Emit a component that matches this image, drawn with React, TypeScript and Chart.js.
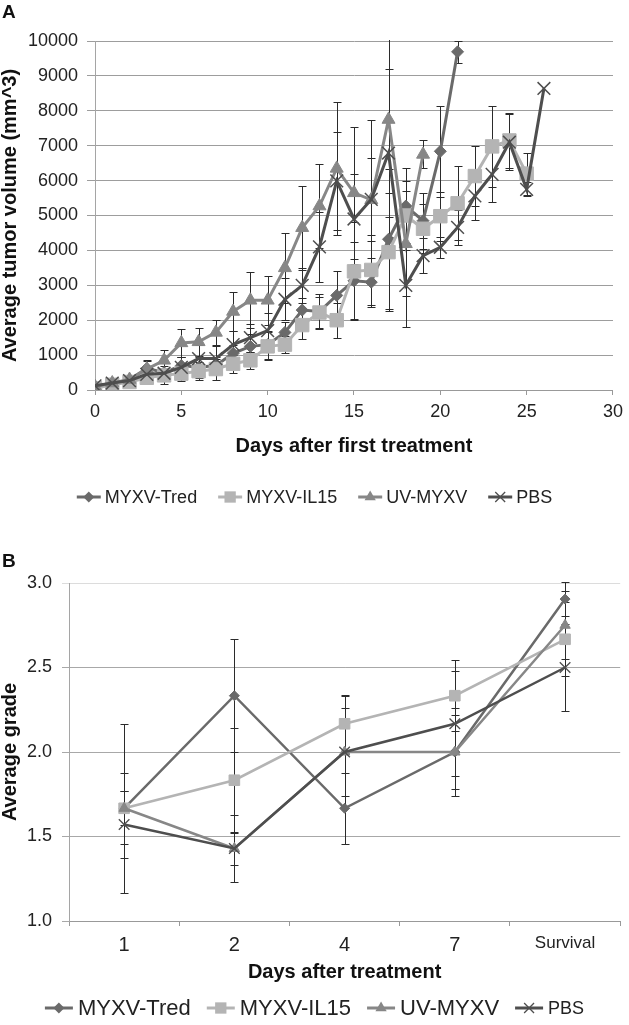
import React, { useEffect, useRef } from 'react';
import { Chart, registerables } from 'chart.js';

Chart.register(...registerables);

const FONT = '"Liberation Sans", Arial, Helvetica, sans-serif';

// ---------- shared series info ----------
const seriesNames = ['MYXV-Tred', 'MYXV-IL15', 'UV-MYXV', 'PBS'];
const seriesColors = ['#6a6a6a', '#b4b4b4', '#878787', '#4e4e4e'];
const seriesStyles = ['rectRot', 'rect', 'triangle', 'crossRot'];

// ---------- panel A data ----------
const tumorDays = [0, 1, 2, 3, 4, 5, 6, 7, 8, 9, 10, 11, 12, 13, 14, 15, 16, 17, 18, 19, 20, 21, 22, 23, 24, 25, 26];
const tumorTred = [100, 180, 300, 620, 500, 700, 650, 700, 1050, 1250, 1300, 1650, 2290, 2250, 2710, 3130, 3090, 4320, 5270, 4850, 6840, 9690];
const tumorTredErr = [30, 50, 80, 200, 200, 250, 300, 250, 250, 350, 400, 300, 350, 500, 700, 1100, 700, 2000, 1100, 800, 1300, 320];
const tumorIL15 = [50, 150, 230, 350, 420, 470, 540, 600, 750, 850, 1250, 1300, 1860, 2220, 2000, 3400, 3440, 3950, 5000, 4620, 4980, 5350, 6130, 6980, 7150, 6200];
const tumorIL15Err = [20, 40, 60, 100, 150, 200, 250, 300, 250, 250, 400, 250, 400, 450, 500, 1400, 1000, 1700, 1000, 700, 700, 1060, 870, 1150, 800, 600];
const tumorUV = [100, 200, 300, 600, 850, 1350, 1380, 1650, 2250, 2570, 2570, 3500, 4650, 5270, 6350, 5650, 5450, 7750, 4190, 6750];
const tumorUVErr = [30, 50, 80, 250, 300, 400, 400, 350, 550, 800, 700, 1000, 1200, 1200, 1900, 1900, 2300, 2800, 1500, 400];
const tumorPBS = [120, 200, 270, 450, 480, 650, 900, 900, 1300, 1500, 1700, 2600, 3000, 4100, 5990, 4900, 5460, 6790, 3000, 3850, 4090, 4660, 5560, 6180, 7100, 5750, 8640];
const tumorPBSErr = [30, 50, 80, 100, 300, 300, 400, 350, 400, 400, 500, 600, 500, 1000, 1400, 1300, 1200, 2400, 1200, 500, 300, 500, 700, 800, 800, 200, 0];
const tumorXTicks = [0, 5, 10, 15, 20, 25, 30];

// ---------- panel B data ----------
const gradeCategories = ['1', '2', '4', '7', 'Survival'];
const gradeTred = [1.667, 2.333, 1.667, 2.0, 2.905];
const gradeTredErr = [0.5, 0.333, 0.21, 0.26, 0.1];
const gradeIL15 = [1.667, 1.833, 2.167, 2.333, 2.667];
const gradeIL15Err = [0.21, 0.31, 0.17, 0.21, 0.22];
const gradeUV = [1.667, 1.429, 2.0, 2.0, 2.75];
const gradeUVErr = [0.1, 0.2, 0.26, 0.22, 0.2];
const gradePBS = [1.571, 1.429, 2.0, 2.167, 2.5];
const gradePBSErr = [0.2, 0.1, 0.33, 0.31, 0.26];

// ---------- helpers ----------
function drawMarker(ctx: CanvasRenderingContext2D, style: string, x: number, y: number, r: number, color: string, lw: number) {
  ctx.save();
  ctx.fillStyle = color;
  ctx.strokeStyle = color;
  ctx.lineWidth = lw;
  ctx.beginPath();
  if (style === 'rectRot') {
    ctx.moveTo(x - r, y);
    ctx.lineTo(x, y - r);
    ctx.lineTo(x + r, y);
    ctx.lineTo(x, y + r);
    ctx.closePath();
    ctx.fill();
  } else if (style === 'rect') {
    const s = r * Math.SQRT1_2;
    ctx.rect(x - s, y - s, 2 * s, 2 * s);
    ctx.fill();
  } else if (style === 'triangle') {
    let a = 0;
    ctx.moveTo(x + Math.sin(a) * r, y - Math.cos(a) * r);
    a += (2 * Math.PI) / 3;
    ctx.lineTo(x + Math.sin(a) * r, y - Math.cos(a) * r);
    a += (2 * Math.PI) / 3;
    ctx.lineTo(x + Math.sin(a) * r, y - Math.cos(a) * r);
    ctx.closePath();
    ctx.fill();
  } else {
    const o = r * Math.SQRT1_2;
    ctx.moveTo(x - o, y - o);
    ctx.lineTo(x + o, y + o);
    ctx.moveTo(x - o, y + o);
    ctx.lineTo(x + o, y - o);
    ctx.stroke();
  }
  ctx.restore();
}

const errorBarPlugin = {
  id: 'errorBars',
  beforeDatasetsDraw(chart: any) {
    const { ctx, chartArea } = chart;
    const yScale = chart.scales.y;
    ctx.save();
    ctx.beginPath();
    ctx.rect(chartArea.left, chartArea.top - 1, chartArea.right - chartArea.left, chartArea.bottom - chartArea.top + 2);
    ctx.clip();
    ctx.strokeStyle = '#2b2b2b';
    ctx.lineWidth = 1;
    chart.data.datasets.forEach((ds: any, di: number) => {
      const errs = ds.errors;
      if (!errs) return;
      const meta = chart.getDatasetMeta(di);
      meta.data.forEach((pt: any, i: number) => {
        const e = errs[i];
        if (!e) return;
        const raw = ds.data[i];
        const v = typeof raw === 'number' ? raw : raw.y;
        const x = Math.round(pt.x) + 0.5;
        const y1 = Math.round(yScale.getPixelForValue(v + e)) + 0.5;
        const y2 = Math.round(yScale.getPixelForValue(v - e)) + 0.5;
        ctx.beginPath();
        ctx.moveTo(x, y1);
        ctx.lineTo(x, y2);
        ctx.moveTo(x - 4, y1);
        ctx.lineTo(x + 4, y1);
        ctx.moveTo(x - 4, y2);
        ctx.lineTo(x + 4, y2);
        ctx.stroke();
      });
    });
    ctx.restore();
  },
};

const legendPlugin = {
  id: 'customLegend',
  afterDraw(chart: any, _args: any, opts: any) {
    const { ctx } = chart;
    const items = chart.data.datasets.map((ds: any, i: number) => ({
      text: ds.label,
      color: ds.borderColor,
      style: ds.pointStyle,
      size: opts.fontSizes[i],
      radius: opts.radii[i],
    }));
    ctx.save();
    let total = 0;
    const widths = items.map((it: any) => {
      ctx.font = `${it.size}px ${FONT}`;
      const w = opts.lineLen + opts.textGap + ctx.measureText(it.text).width;
      total += w;
      return w;
    });
    total += opts.itemGap * (items.length - 1);
    let x = chart.width / 2 - total / 2;
    const y = opts.y;
    items.forEach((it: any, i: number) => {
      ctx.strokeStyle = it.color;
      ctx.lineWidth = opts.lineWidth;
      ctx.beginPath();
      ctx.moveTo(x, y);
      ctx.lineTo(x + opts.lineLen, y);
      ctx.stroke();
      drawMarker(ctx, it.style, x + opts.lineLen / 2, y, it.radius, it.color, it.style === 'crossRot' ? 1.3 : 1);
      ctx.fillStyle = '#222';
      ctx.font = `${it.size}px ${FONT}`;
      ctx.textAlign = 'left';
      ctx.textBaseline = 'middle';
      ctx.fillText(it.text, x + opts.lineLen + opts.textGap, y + 1);
      x += widths[i] + opts.itemGap;
    });
    ctx.restore();
  },
};

function tumorDataset(idx: number, values: number[], errs: number[], radius: number) {
  return {
    label: seriesNames[idx],
    data: values.map((v, i) => ({ x: tumorDays[i], y: v })),
    errors: errs,
    borderColor: seriesColors[idx],
    backgroundColor: seriesColors[idx],
    pointBackgroundColor: seriesColors[idx],
    pointBorderColor: seriesColors[idx],
    pointStyle: seriesStyles[idx],
    pointRadius: radius,
    pointBorderWidth: seriesStyles[idx] === 'crossRot' ? 1.5 : 1,
    borderWidth: 3,
    tension: 0,
    order: 4 - idx,
  };
}

function gradeDataset(idx: number, values: number[], errs: number[], radius: number) {
  return {
    label: seriesNames[idx],
    data: values,
    errors: errs,
    borderColor: seriesColors[idx],
    backgroundColor: seriesColors[idx],
    pointBackgroundColor: seriesColors[idx],
    pointBorderColor: seriesColors[idx],
    pointStyle: seriesStyles[idx],
    pointRadius: radius,
    pointBorderWidth: seriesStyles[idx] === 'crossRot' ? 1.3 : 1,
    borderWidth: 2.5,
    tension: 0,
    order: 4 - idx,
  };
}

const radiiA = [6, 9.5, 7.5, 9];
const radiiB = [5, 7.5, 6, 7.5];

function configA(): any {
  return {
    type: 'line',
    data: {
      datasets: [
        tumorDataset(0, tumorTred, tumorTredErr, radiiA[0]),
        tumorDataset(1, tumorIL15, tumorIL15Err, radiiA[1]),
        tumorDataset(2, tumorUV, tumorUVErr, radiiA[2]),
        tumorDataset(3, tumorPBS, tumorPBSErr, radiiA[3]),
      ],
    },
    options: {
      responsive: false,
      animation: false,
      events: [],
      layout: { padding: { left: 0, right: 11, top: 41, bottom: 74 } },
      plugins: {
        legend: { display: false },
        tooltip: { enabled: false },
        customLegend: {
          y: 497, lineLen: 24, textGap: 4, itemGap: 21, lineWidth: 3,
          fontSizes: [18, 18, 18, 18], radii: [5.5, 8, 6.5, 7],
        },
      },
      scales: {
        x: {
          type: 'linear',
          min: 0,
          max: 30,
          afterBuildTicks: (s: any) => { s.ticks = tumorXTicks.map((v) => ({ value: v })); },
          afterFit: (s: any) => { s.height = 66; },
          ticks: {
            font: { size: 18, family: FONT }, color: '#222', padding: 6, maxRotation: 0,
            callback: (v: any) => String(v),
          },
          grid: { drawOnChartArea: false, drawTicks: true, tickLength: 5, color: '#999' },
          border: { color: '#999', width: 1 },
          title: {
            display: true, text: 'Days after first treatment', color: '#111',
            font: { size: 20, weight: 'bold', family: FONT, lineHeight: 1 }, padding: 0,
          },
        },
        y: {
          min: 0,
          max: 10000,
          afterFit: (s: any) => { s.width = 95; },
          ticks: {
            stepSize: 1000, font: { size: 18, family: FONT }, color: '#222', padding: 9,
            callback: (v: any) => String(v),
          },
          grid: { color: '#9d9d9d', tickLength: 8, lineWidth: 1 },
          border: { color: '#a5a5a5', width: 1 },
          title: {
            display: true, text: 'Average tumor volume (mm^3)', color: '#111',
            font: { size: 20, weight: 'bold', family: FONT, lineHeight: 1 }, padding: 0,
          },
        },
      },
    },
    plugins: [errorBarPlugin, legendPlugin],
  };
}

function configB(): any {
  return {
    type: 'line',
    data: {
      labels: gradeCategories,
      datasets: [
        gradeDataset(0, gradeTred, gradeTredErr, radiiB[0]),
        gradeDataset(1, gradeIL15, gradeIL15Err, radiiB[1]),
        gradeDataset(2, gradeUV, gradeUVErr, radiiB[2]),
        gradeDataset(3, gradePBS, gradePBSErr, radiiB[3]),
      ],
    },
    options: {
      responsive: false,
      animation: false,
      events: [],
      layout: { padding: { left: 0, right: 2, top: 53, bottom: 43 } },
      plugins: {
        legend: { display: false },
        tooltip: { enabled: false },
        customLegend: {
          y: 478, lineLen: 28, textGap: 5, itemGap: 16, lineWidth: 3,
          fontSizes: [22, 22, 22, 18], radii: [5.5, 8, 6.5, 7],
        },
      },
      scales: {
        x: {
          type: 'category',
          offset: true,
          afterFit: (s: any) => { s.height = 61; },
          ticks: {
            font: (c: any) => ({ size: c.tick && c.tick.label === 'Survival' ? 17 : 20, family: FONT }),
            color: '#222', padding: 7, maxRotation: 0,
          },
          grid: { offset: true, drawOnChartArea: false, drawTicks: true, tickLength: 5, color: '#999' },
          border: { color: '#999', width: 1 },
          title: {
            display: true, text: 'Days after treatment', color: '#111',
            font: { size: 20, weight: 'bold', family: FONT, lineHeight: 1 }, padding: 0,
          },
        },
        y: {
          min: 1,
          max: 3,
          afterFit: (s: any) => { s.width = 69; },
          ticks: {
            stepSize: 0.5, font: { size: 18, family: FONT }, color: '#222', padding: 10,
            callback: (v: any) => Number(v).toFixed(1),
          },
          grid: {
            color: (c: any) => (c.tick && c.tick.value === 3 ? '#dcdcdc' : '#a8a8a8'),
            tickLength: 7, lineWidth: 1,
          },
          border: { color: '#a5a5a5', width: 1 },
          title: {
            display: true, text: 'Average grade', color: '#111',
            font: { size: 20, weight: 'bold', family: FONT, lineHeight: 1 }, padding: 0,
          },
        },
      },
    },
    plugins: [errorBarPlugin, legendPlugin],
  };
}

export default function App() {
  const refA = useRef<HTMLCanvasElement>(null);
  const refB = useRef<HTMLCanvasElement>(null);

  useEffect(() => {
    const a = new Chart(refA.current as HTMLCanvasElement, configA());
    const b = new Chart(refB.current as HTMLCanvasElement, configB());
    return () => {
      a.destroy();
      b.destroy();
    };
  }, []);

  const letter: React.CSSProperties = {
    position: 'absolute', left: 2, fontFamily: FONT, fontWeight: 'bold', fontSize: 19, lineHeight: '20px', color: '#111',
  };

  return (
    <div style={{ position: 'absolute', left: 0, top: 0, width: 629, height: 1025, background: '#fff', overflow: 'hidden' }}>
      <canvas ref={refA} width={629} height={530} style={{ position: 'absolute', left: 0, top: 0, width: 629, height: 530 }} />
      <canvas ref={refB} width={629} height={495} style={{ position: 'absolute', left: 0, top: 530, width: 629, height: 495 }} />
      <div style={{ ...letter, top: 2 }}>A</div>
      <div style={{ ...letter, top: 551 }}>B</div>
    </div>
  );
}
